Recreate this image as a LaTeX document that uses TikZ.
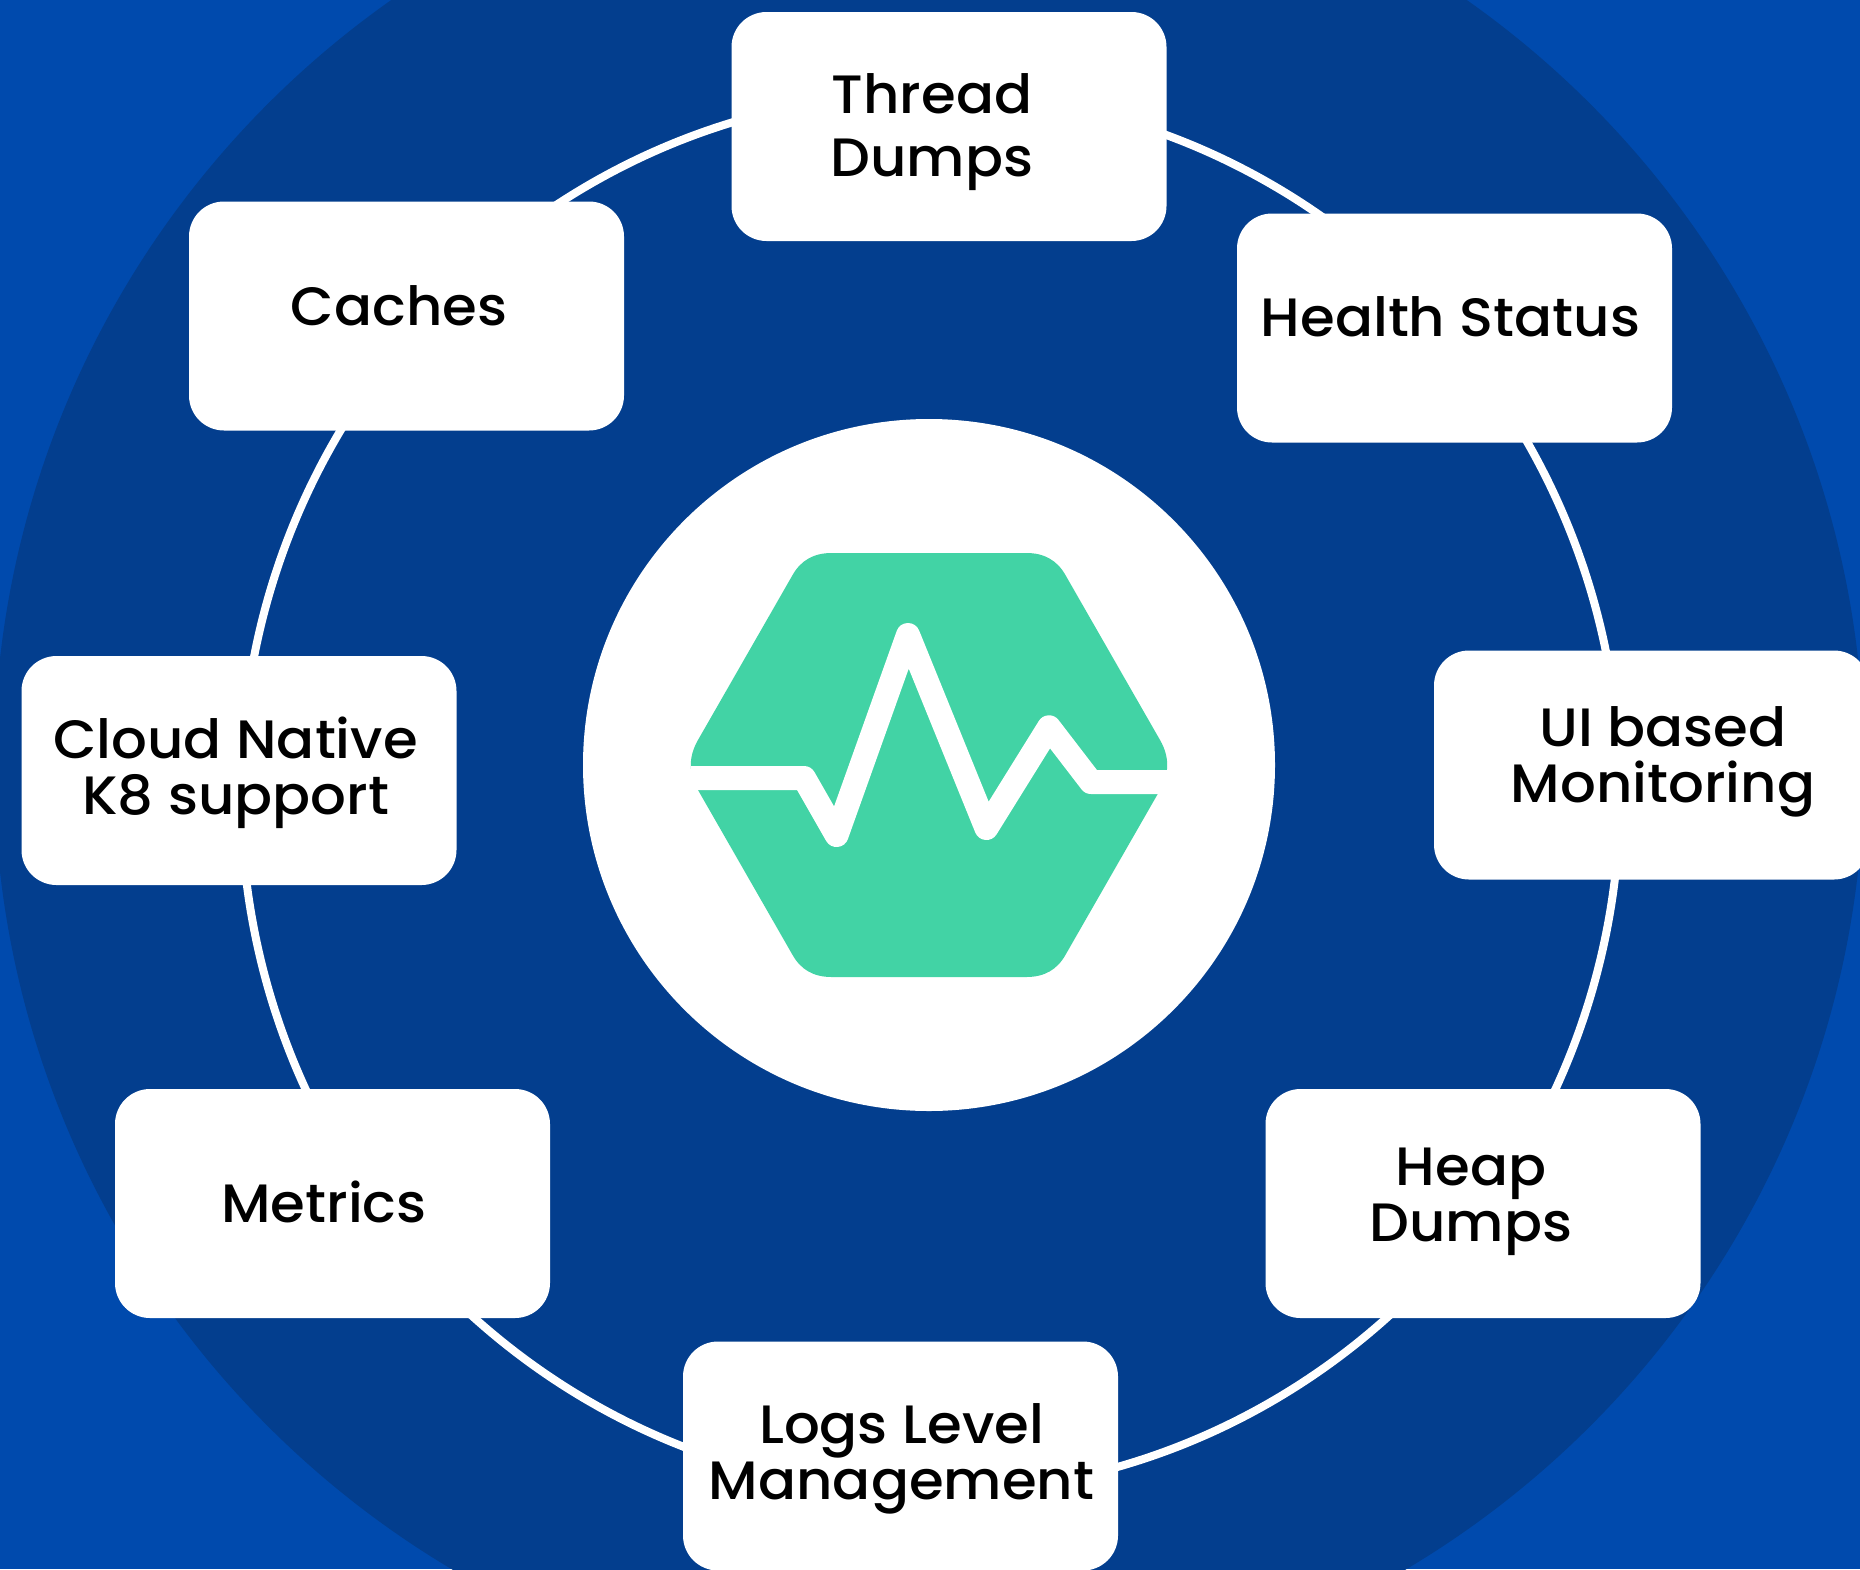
\documentclass[tikz,border=0pt]{standalone}
\usepackage{fontspec}
\setmainfont{Poppins Medium}[FakeStretch=1.04]
\definecolor{outerblue}{HTML}{004AAD}
\definecolor{midblue}{HTML}{033E8E}
\definecolor{hexgreen}{HTML}{42D3A5}
\tikzset{
  x=1pt,y=-1pt,
  cardbox/.style={fill=white,draw=none,rounded corners=35pt,minimum width=435pt,minimum height=229pt,inner sep=0pt,shape=rectangle},
  cardtext/.style={text=black,align=center,inner sep=0pt,font=\fontsize{54}{56}\selectfont},
  cardtextwide/.style={text=black,align=center,inner sep=0pt,font=\fontsize{54}{63}\selectfont},
}
\begin{document}
\begin{tikzpicture}
\useasboundingbox (0,0) rectangle (1860,1569);
\clip (0,0) rectangle (1860,1569);
\fill[outerblue] (0,0) rectangle (1860,1569);
\fill[midblue] (929,765) circle[radius=935];
\draw[white,line width=8pt] (930.5,793) ellipse[x radius=689.5,y radius=700];
% cards
\node[cardbox] (thread) at (949,126.5) {};
\node[cardbox] (health) at (1454.5,328) {};
\node[cardbox] (ui) at (1651.5,765) {};
\node[cardbox] (caches) at (406.5,316) {};
\node[cardbox] (cloud) at (239,770.5) {};
\node[cardbox] (metrics) at (332.5,1203.5) {};
\node[cardbox] (heap) at (1483,1203.5) {};
\node[cardbox] (logs) at (900.5,1456) {};
\node[cardtextwide] (threadt) at (932,132) {Thread\\Dumps};
\node[cardtext] (healtht) at (1450.5,317) {Health Status};
\node[cardtext] (uit) at (1663,761.5) {UI based\\Monitoring};
\node[cardtext] (cachest) at (399,306) {Caches};
\node[cardtext] (cloudt) at (235.5,773) {Cloud Native\\K8 support};
\node[cardtext] (metricst) at (324,1202) {Metrics};
\node[cardtext] (heapt) at (1471,1201.5) {Heap\\Dumps};
\node[cardtext] (logst) at (901.5,1458.5) {Logs Level\\Management};
% centre
\fill[white] (929,765) circle[radius=346];
\fill[hexgreen] (831.5,553) -- (1026.5,553)
  .. controls (1044.2,553) and (1057.1,560.3) .. (1065.4,575) -- (1160,740)
  .. controls (1169.6,756.7) and (1169.6,773.3) .. (1160,790) -- (1065.4,955)
  .. controls (1057.1,969.7) and (1044.2,977) .. (1026.5,977) -- (831.5,977)
  .. controls (813.8,977) and (800.9,969.7) .. (792.6,955) -- (698,790)
  .. controls (688.4,773.3) and (688.4,756.7) .. (698,740) -- (792.6,575)
  .. controls (800.9,560.3) and (813.8,553) .. (831.5,553) -- cycle;
\draw[white,line width=24pt,line join=round] (691,778) -- (804,778) -- (836.6,835) -- (908,635) -- (986.4,828) -- (1049,727.3) -- (1091,782) -- (1167,782);
\end{tikzpicture}
\end{document}
